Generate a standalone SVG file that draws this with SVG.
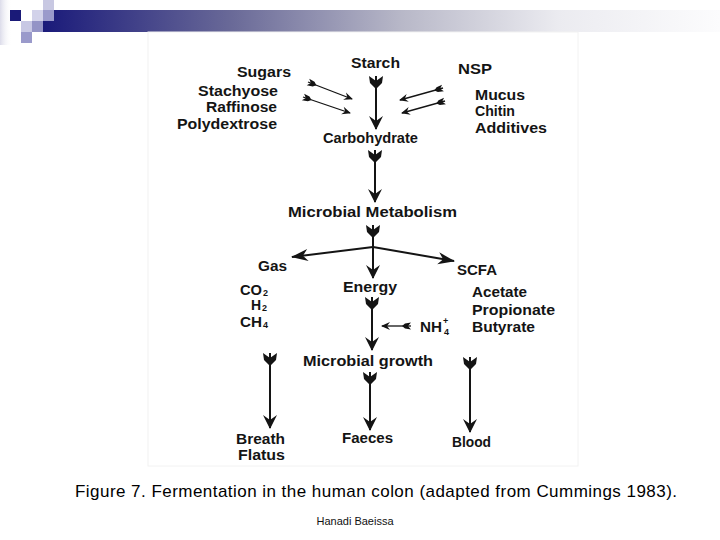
<svg xmlns="http://www.w3.org/2000/svg" width="720" height="540" viewBox="0 0 720 540">
<style>
.t{font-family:"Liberation Sans",Arial,sans-serif;font-weight:bold;font-size:14px;fill:#141414}
.sub{font-family:"Liberation Sans",Arial,sans-serif;font-weight:bold;font-size:9px;fill:#141414}
.c{stroke:#141414;stroke-width:2;fill:none}
.cs{stroke:#141414;stroke-width:1.3;fill:none}
.cap{font-family:"Liberation Sans",Arial,sans-serif;font-size:17px;fill:#000}
.au{font-family:"Liberation Sans",Arial,sans-serif;font-size:11px;fill:#111}
</style>
<defs>
<linearGradient id="bar" x1="43" y1="0" x2="720" y2="0" gradientUnits="userSpaceOnUse">
<stop offset="0" stop-color="#1a1a7a"/>
<stop offset="0.28" stop-color="#6a6a98"/>
<stop offset="0.53" stop-color="#b8b8c8"/>
<stop offset="0.76" stop-color="#ebebf0"/>
<stop offset="1" stop-color="#fcfcfd"/>
</linearGradient>
<linearGradient id="edge" x1="0" y1="0" x2="1" y2="0">
<stop offset="0" stop-color="#dcdcea"/>
<stop offset="1" stop-color="#ffffff" stop-opacity="0"/>
</linearGradient>
<marker id="head" markerUnits="userSpaceOnUse" markerWidth="20" markerHeight="20" refX="0" refY="0" orient="auto" overflow="visible">
<path d="M1,0 L-13,-7 L-8,0 L-13,7 Z" fill="#141414"/>
</marker>
<marker id="headM" markerUnits="userSpaceOnUse" markerWidth="20" markerHeight="20" refX="0" refY="0" orient="auto" overflow="visible">
<path d="M1,0 L-16,-6 L-11,0 L-16,6 Z" fill="#141414"/>
</marker>
<marker id="headS" markerUnits="userSpaceOnUse" markerWidth="12" markerHeight="12" refX="0" refY="0" orient="auto" overflow="visible">
<path d="M1,0 L-8,-4 L-5,0 L-8,4 Z" fill="#141414"/>
</marker>
<marker id="fl" markerUnits="userSpaceOnUse" markerWidth="20" markerHeight="20" refX="0" refY="0" orient="auto" overflow="visible">
<path d="M0,-7 L5,0 L0,7 L7,6 L13,0 L7,-6 Z" fill="#141414"/>
</marker>
<marker id="flS" markerUnits="userSpaceOnUse" markerWidth="12" markerHeight="12" refX="0" refY="0" orient="auto" overflow="visible">
<path d="M0,-3.5 L3,0 L0,3.5 L6,2.5 L9,0 L6,-2.5 Z" fill="#141414"/>
</marker>
</defs>
<rect width="720" height="540" fill="#fff"/>
<g id="decoration">
<rect x="0" y="0" width="12" height="45" fill="url(#edge)"/>
<rect x="43" y="10" width="677" height="22" fill="url(#bar)"/>
<rect x="43" y="0" width="11" height="10" fill="#c8c8e2"/>
<rect x="10" y="10" width="11" height="11" fill="#1a1a78"/>
<rect x="32" y="10" width="11" height="11" fill="#d2d2ea"/>
<rect x="43" y="10" width="11" height="11" fill="#9a9acb"/>
<rect x="21" y="21" width="11" height="11" fill="#c8c8e4"/>
<rect x="32" y="21" width="11" height="11" fill="#9494c6"/>
<rect x="21" y="32" width="11" height="11" fill="#9a9acb"/>
<rect x="148" y="32" width="430" height="434" fill="none" stroke="#f2f2f2" stroke-width="1"/>
</g>
<g id="connectors">
<path class="c" d="M376,76 L376,129" marker-start="url(#fl)" marker-end="url(#head)"/>
<path class="c" d="M375,150 L375,202" marker-start="url(#fl)" marker-end="url(#head)"/>
<path class="c" d="M373,225 L373,278" marker-start="url(#fl)" marker-end="url(#head)"/>
<path class="c" d="M373,247 L292,257" marker-end="url(#headM)"/>
<path class="c" d="M373,247 L454,261" marker-end="url(#headM)"/>
<path class="c" d="M372,297 L372,350" marker-start="url(#fl)" marker-end="url(#head)"/>
<path class="c" d="M370,372 L370,430" marker-start="url(#fl)" marker-end="url(#head)"/>
<path class="c" d="M270,353 L270,428" marker-start="url(#fl)" marker-end="url(#head)"/>
<path class="c" d="M470,357 L470,432" marker-start="url(#fl)" marker-end="url(#head)"/>
<path class="cs" d="M308,82 L352,99" marker-start="url(#flS)" marker-end="url(#headS)"/>
<path class="cs" d="M303,97 L350,113" marker-start="url(#flS)" marker-end="url(#headS)"/>
<path class="cs" d="M443,88 L400,100" marker-start="url(#flS)" marker-end="url(#headS)"/>
<path class="cs" d="M445,101 L402,113" marker-start="url(#flS)" marker-end="url(#headS)"/>
<path class="cs" d="M411,326 L382,326" marker-start="url(#flS)" marker-end="url(#headS)"/>
</g>
<g id="starch"><text class="t" x="351" y="68" textLength="49" lengthAdjust="spacingAndGlyphs">Starch</text></g>
<g id="sugars">
<text class="t" x="237" y="77" textLength="54" lengthAdjust="spacingAndGlyphs">Sugars</text>
<text class="t" x="198" y="96" textLength="80" lengthAdjust="spacingAndGlyphs">Stachyose</text>
<text class="t" x="206" y="112" textLength="71" lengthAdjust="spacingAndGlyphs">Raffinose</text>
<text class="t" x="177" y="129" textLength="100" lengthAdjust="spacingAndGlyphs">Polydextrose</text>
</g>
<g id="nsp">
<text class="t" x="458" y="74" textLength="34" lengthAdjust="spacingAndGlyphs">NSP</text>
<text class="t" x="475" y="100" textLength="50" lengthAdjust="spacingAndGlyphs">Mucus</text>
<text class="t" x="475" y="116" textLength="40" lengthAdjust="spacingAndGlyphs">Chitin</text>
<text class="t" x="475" y="133" textLength="72" lengthAdjust="spacingAndGlyphs">Additives</text>
</g>
<g id="carbohydrate"><text class="t" x="323" y="143" textLength="95" lengthAdjust="spacingAndGlyphs">Carbohydrate</text></g>
<g id="metabolism"><text class="t" x="288" y="217" textLength="169" lengthAdjust="spacingAndGlyphs">Microbial Metabolism</text></g>
<g id="gas">
<text class="t" x="258" y="271" textLength="29" lengthAdjust="spacingAndGlyphs">Gas</text>
<text class="t" x="240" y="295" textLength="22" lengthAdjust="spacingAndGlyphs">CO</text>
<text class="sub" x="263" y="296">2</text>
<text class="t" x="251" y="310">H</text>
<text class="sub" x="262" y="311">2</text>
<text class="t" x="240" y="327" textLength="22" lengthAdjust="spacingAndGlyphs">CH</text>
<text class="sub" x="263" y="328">4</text>
</g>
<g id="energy"><text class="t" x="343" y="292" textLength="54" lengthAdjust="spacingAndGlyphs">Energy</text></g>
<g id="scfa">
<text class="t" x="457" y="275" textLength="40" lengthAdjust="spacingAndGlyphs">SCFA</text>
<text class="t" x="472" y="297" textLength="55" lengthAdjust="spacingAndGlyphs">Acetate</text>
<text class="t" x="472" y="315" textLength="83" lengthAdjust="spacingAndGlyphs">Propionate</text>
<text class="t" x="472" y="332" textLength="63" lengthAdjust="spacingAndGlyphs">Butyrate</text>
</g>
<g id="nh4">
<text class="t" x="420" y="332" textLength="22" lengthAdjust="spacingAndGlyphs">NH</text>
<text class="sub" x="443" y="324">+</text>
<text class="sub" x="444" y="335">4</text>
</g>
<g id="growth"><text class="t" x="303" y="366" textLength="130" lengthAdjust="spacingAndGlyphs">Microbial growth</text></g>
<g id="breath">
<text class="t" x="236" y="444" textLength="49" lengthAdjust="spacingAndGlyphs">Breath</text>
<text class="t" x="238" y="460" textLength="47" lengthAdjust="spacingAndGlyphs">Flatus</text>
</g>
<g id="faeces"><text class="t" x="342" y="443" textLength="51" lengthAdjust="spacingAndGlyphs">Faeces</text></g>
<g id="blood"><text class="t" x="452" y="447" textLength="39" lengthAdjust="spacingAndGlyphs">Blood</text></g>
<g id="caption">
<text class="cap" x="75" y="497" textLength="602">Figure 7. Fermentation in the human colon (adapted from Cummings 1983).</text>
<text class="au" x="355" y="525" text-anchor="middle">Hanadi Baeissa</text>
</g>
</svg>
